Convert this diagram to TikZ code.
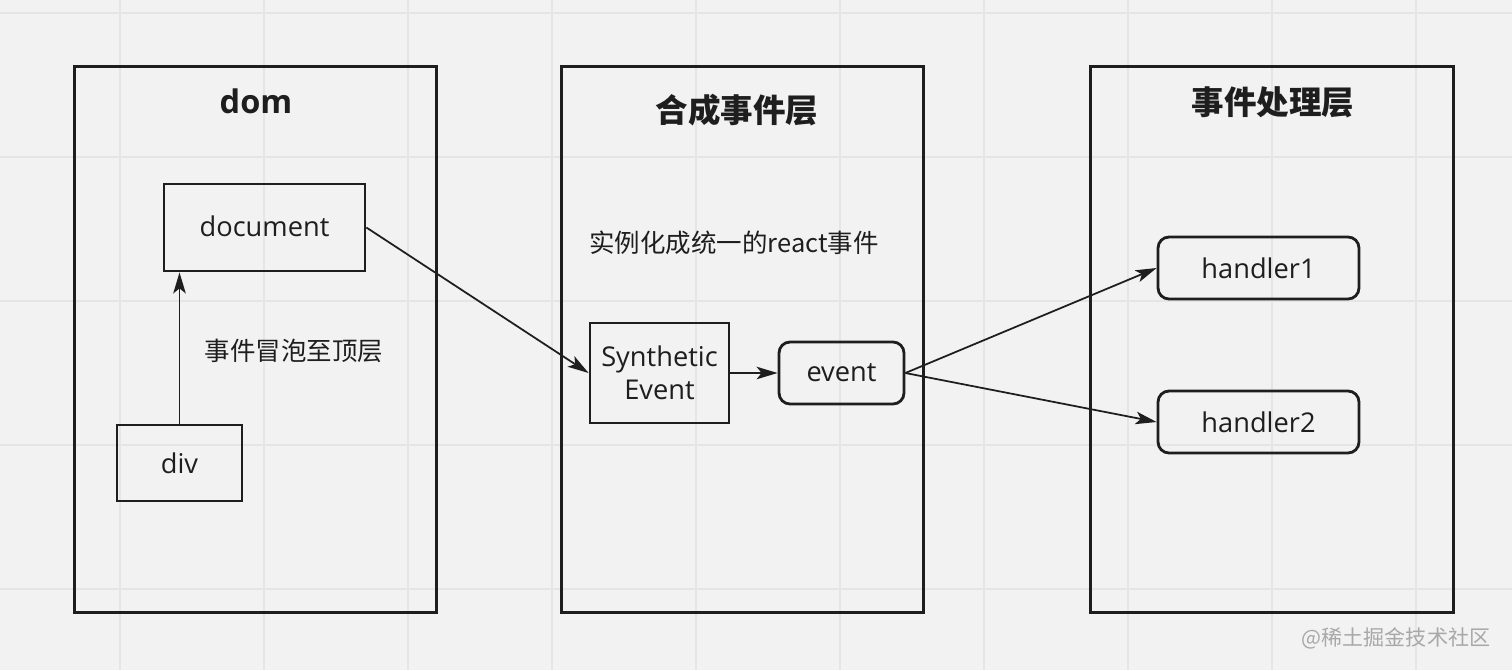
\documentclass[tikz,border=0pt]{standalone}
\usepackage{fontspec}
\setmainfont{Open Sans}
\newfontfamily\cjk{Noto Sans CJK SC}
\usetikzlibrary{arrows.meta}
\definecolor{bgcol}{HTML}{F2F2F2}
\definecolor{gridcol}{HTML}{E5E5E5}
\definecolor{inkcol}{HTML}{1E1E1E}
\definecolor{markcol}{HTML}{A8A8A8}
\tikzset{
	layer/.style={rectangle, draw=inkcol, line width=1.7pt, minimum width=7.26cm, minimum height=10.94cm},
	box/.style={rectangle, draw=inkcol, line width=1.6pt, inner sep=0pt, text=inkcol, font=\fontsize{15.5}{19}\selectfont, align=center},
	roundbox/.style={box, rounded corners=0.22cm},
	title/.style={text=inkcol, font=\fontsize{18.5}{22}\selectfont\bfseries},
	note/.style={text=inkcol, font=\cjk\fontsize{14.5}{18}\selectfont},
	link/.style={draw=inkcol, line width=1pt, -{Stealth[length=0.42cm, width=0.25cm, inset=0.1cm]}},
}
\begin{document}
\begin{tikzpicture}[x=0.02cm, y=-0.02cm]
\useasboundingbox[fill=bgcol] (0,0) rectangle (1512,670);
\foreach \gx in {120,264,...,1512}{
	\draw[gridcol, line width=0.6pt] (\gx,0) -- (\gx,670);
}
\foreach \gy in {13,157,...,670}{
	\draw[gridcol, line width=0.6pt] (0,\gy) -- (1512,\gy);
}

% three layers
\node[layer] (dom) at (255.5,339.5) {};
\node[layer] (synth) at (742.5,339.5) {};
\node[layer] (handle) at (1272,339.5) {};
\node[title] (domtitle) at (256,101) {dom};
\node[title, font=\cjk\fontsize{18.5}{22}\selectfont\bfseries] (synthtitle) at (737,110) {合成事件层};
\node[title, font=\cjk\fontsize{18.5}{22}\selectfont\bfseries] (handletitle) at (1273,102) {事件处理层};

% dom layer
\node[box, minimum width=4.02cm, minimum height=1.74cm] (document) at (264.5,227.5) {\raisebox{0.07cm}{document}};
\node[box, minimum width=2.5cm, minimum height=1.52cm] (div) at (179.5,463) {div};
\node[note] (bubble) at (294,351) {事件冒泡至顶层};

% synthetic layer
\node[note] (unify) at (734,243) {实例化成统一的react事件};
\node[box, minimum width=2.78cm, minimum height=2cm] (Synthetic) at (659.5,373) {Synthetic\\Event};
\node[roundbox, minimum width=2.5cm, minimum height=1.24cm] (event) at (841.5,373) {event};

% handler layer
\node[roundbox, minimum width=4.02cm, minimum height=1.24cm] (handler1) at (1258.5,268) {handler1};
\node[roundbox, minimum width=4.02cm, minimum height=1.24cm] (handler2) at (1258.5,422) {handler2};

\node[font=\cjk\fontsize{12}{14}\selectfont, text=markcol] (mark) at (1396,638) {@稀土掘金技术社区};

\draw[link] (div.north) -- (div.north |- document.south);
\foreach \u \v in {
	document/Synthetic,Synthetic/event%
	,event/handler1,event/handler2%
}{
	\draw[link] (\u.east) -- (\v.west);
}
\end{tikzpicture}
\end{document}
